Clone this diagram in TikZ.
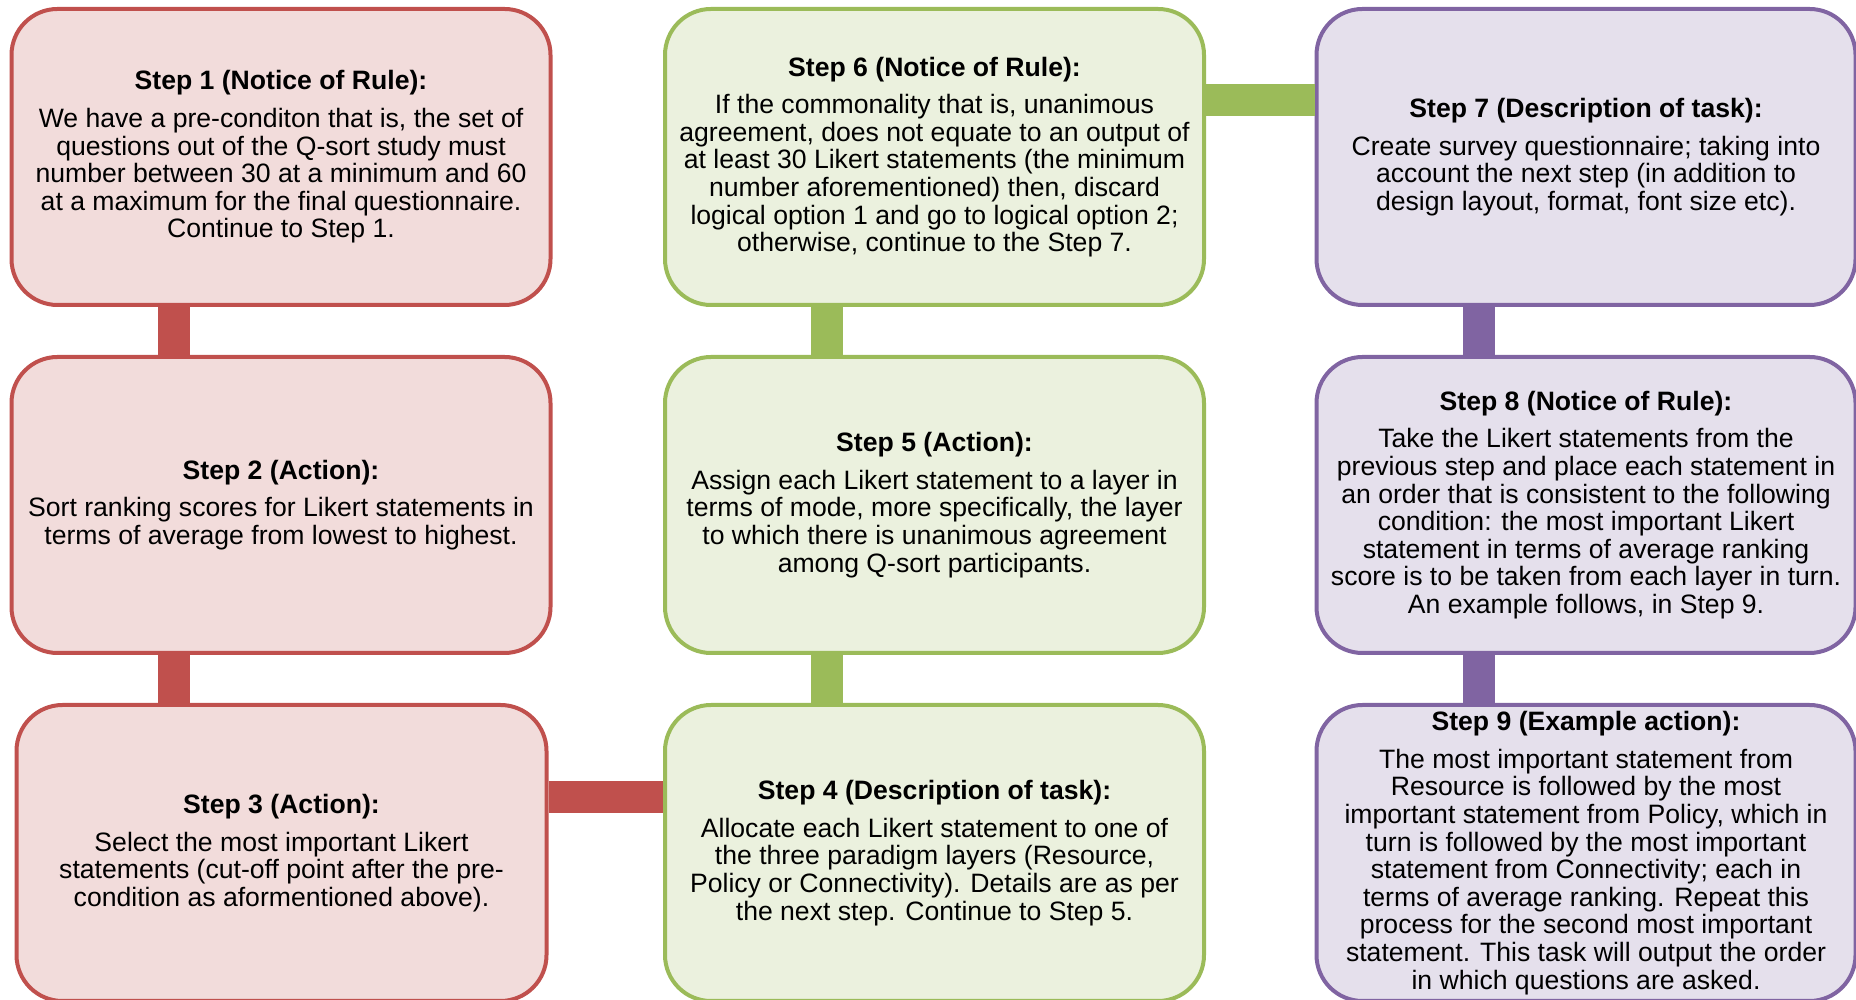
\documentclass[tikz,border=0pt]{standalone}
\usepackage{fontspec}
\setmainfont{Liberation Sans}
\usepackage{tikz}

\definecolor{redline}{HTML}{C0504D}
\definecolor{redfill}{HTML}{F2DCDB}
\definecolor{greenline}{HTML}{9BBB59}
\definecolor{greenfill}{HTML}{EBF1DE}
\definecolor{purpleline}{HTML}{8064A2}
\definecolor{purplefill}{HTML}{E5E0EC}

\tikzset{
    stepbox/.style={rectangle, rounded corners=23pt, line width=2pt,
        minimum width=269.5pt, minimum height=148pt, inner sep=2pt,
        align=center, font=\fontsize{13.3}{13.8}\selectfont},
    redbox/.style={stepbox, draw=redline, fill=redfill},
    greenbox/.style={stepbox, draw=greenline, fill=greenfill},
    purplebox/.style={stepbox, draw=purpleline, fill=purplefill},
    redbar/.style={line width=16pt, draw=redline},
    greenbar/.style={line width=16pt, draw=greenline},
    purplebar/.style={line width=16pt, draw=purpleline}
}

\newcommand{\steptitle}[1]{\textbf{#1}\\[5pt]}

\begin{document}
\begin{tikzpicture}[x=0.5pt, y=0.5pt]
    \useasboundingbox (0,0) rectangle (1856,1000);
    \clip (0,0) rectangle (1856,1000);

    % Left column (red)
    \node[redbox] (s1) at (281,843) {\steptitle{Step 1 (Notice of Rule):}
        We have a pre-conditon that is, the set of\\
        questions out of the Q-sort study must\\
        number between 30 at a minimum and 60\\
        at a maximum for the final questionnaire.\\
        Continue to Step 1.};
    \node[redbox] (s2) at (281,495) {\steptitle{Step 2 (Action):}
        Sort ranking scores for Likert statements in\\
        terms of average from lowest to highest.};
    \node[redbox, minimum width=265pt] (s3) at (281.5,147) {\steptitle{Step 3 (Action):}
        Select the most important Likert\\
        statements (cut-off point after the pre-\\
        condition as aformentioned above).};

    % Middle column (green)
    \node[greenbox] (s6) at (934.5,843) {\steptitle{Step 6 (Notice of Rule):}
        If the commonality that is, unanimous\\
        agreement, does not equate to an output of\\
        at least 30 Likert statements (the minimum\\
        number aforementioned) then, discard\\
        logical option 1 and go to logical option 2;\\
        otherwise, continue to the Step 7.};
    \node[greenbox] (s5) at (934.5,495) {\steptitle{Step 5 (Action):}
        Assign each Likert statement to a layer in\\
        terms of mode, more specifically, the layer\\
        to which there is unanimous agreement\\
        among Q-sort participants.};
    \node[greenbox] (s4) at (934.5,147) {\steptitle{Step 4 (Description of task):}
        Allocate each Likert statement to one of\\
        the three paradigm layers (Resource,\\
        Policy or Connectivity). Details are as per\\
        the next step. Continue to Step 5.};

    % Right column (purple)
    \node[purplebox] (s7) at (1586,843) {\steptitle{Step 7 (Description of task):}
        Create survey questionnaire; taking into\\
        account the next step (in addition to\\
        design layout, format, font size etc).};
    \node[purplebox] (s8) at (1586,495) {\steptitle{Step 8 (Notice of Rule):}
        Take the Likert statements from the\\
        previous step and place each statement in\\
        an order that is consistent to the following\\
        condition: the most important Likert\\
        statement in terms of average ranking\\
        score is to be taken from each layer in turn.\\
        An example follows, in Step 9.};
    \node[purplebox] (s9) at (1586,147) {\steptitle{Step 9 (Example action):}
        The most important statement from\\
        Resource is followed by the most\\
        important statement from Policy, which in\\
        turn is followed by the most important\\
        statement from Connectivity; each in\\
        terms of average ranking. Repeat this\\
        process for the second most important\\
        statement. This task will output the order\\
        in which questions are asked.};

    % Vertical links inside each column
    \foreach \a/\b/\c in {s1/s2/redbar, s2/s3/redbar, s6/s5/greenbar,
                          s5/s4/greenbar, s7/s8/purplebar, s8/s9/purplebar} {
        \draw[\c] ([xshift=82pt]\a.south west) -- ([xshift=82pt]\a.south west |- \b.north);
    }

    % Links between the columns
    \draw[redbar] ([yshift=-47pt]s3.north east) -- ([yshift=-47pt]s4.north west);
    \draw[greenbar] ([yshift=-46.5pt]s6.north east) -- ([yshift=-46.5pt]s7.north west);

\end{tikzpicture}
\end{document}
